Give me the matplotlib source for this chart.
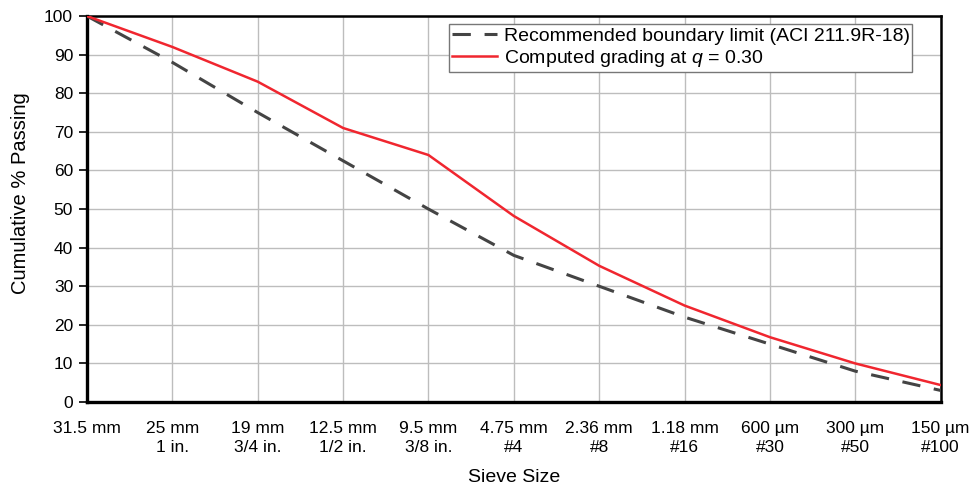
import matplotlib
matplotlib.use("Agg")
import matplotlib.pyplot as plt

plt.rcParams['font.family'] = ['Liberation Sans', 'DejaVu Sans']
plt.rcParams['mathtext.fontset'] = 'custom'
plt.rcParams['mathtext.it'] = 'Liberation Sans:italic'
plt.rcParams['mathtext.rm'] = 'Liberation Sans'

sieve_labels = ["31.5 mm", "25 mm\n1 in.", "19 mm\n3/4 in.", "12.5 mm\n1/2 in.",
                "9.5 mm\n3/8 in.", "4.75 mm\n#4", "2.36 mm\n#8", "1.18 mm\n#16",
                "600 \u00b5m\n#30", "300 \u00b5m\n#50", "150 \u00b5m\n#100"]
boundary = [100, 88, 75, 62.5, 50, 38, 30, 22, 15, 8, 3]
computed = [100, 92, 83, 71, 64, 48.2, 35.3, 25, 16.8, 10, 4.4]

fig = plt.figure(figsize=(9.7, 4.87), dpi=100)
ax = fig.add_axes([0.0897, 0.1745, 0.880, 0.7925])

x = list(range(len(sieve_labels)))
ax.plot(x, boundary, color='#444444', lw=2.2, dashes=(6, 4.5),
        label='Recommended boundary limit (ACI 211.9R-18)', zorder=3)
ax.plot(x, computed, color='#f0262f', lw=1.8,
        label='Computed grading at $q$ = 0.30', zorder=4)

ax.set_xlim(0, len(sieve_labels) - 1)
ax.set_ylim(0, 100)
ax.set_yticks(range(0, 101, 10))
ax.set_xticks(x)
ax.set_xticklabels(sieve_labels, fontsize=12.5, linespacing=1.3)
ax.tick_params(axis='x', length=0, pad=14)
ax.tick_params(axis='y', labelsize=12.5, length=6, width=1.2, direction='out', pad=4)
ax.grid(True, color='#bdbdbd', lw=1)
ax.set_axisbelow(True)

for s in ['left', 'bottom']:
    ax.spines[s].set_linewidth(2.4)
for s in ['top', 'right']:
    ax.spines[s].set_linewidth(1.8)

ax.set_ylabel('Cumulative % Passing', fontsize=14.5)
ax.yaxis.set_label_coords(-0.067, 0.54)
ax.set_xlabel('Sieve Size', fontsize=14, labelpad=10)

leg = ax.legend(loc='upper right', bbox_to_anchor=(0.967, 0.979), fontsize=14,
                fancybox=False, framealpha=1, edgecolor='#777777',
                handlelength=2.3, borderpad=0.15, labelspacing=0.15, handletextpad=0.36,
                borderaxespad=0.0)
leg.get_frame().set_linewidth(1.0)

fig.savefig('out.png', dpi=100)
